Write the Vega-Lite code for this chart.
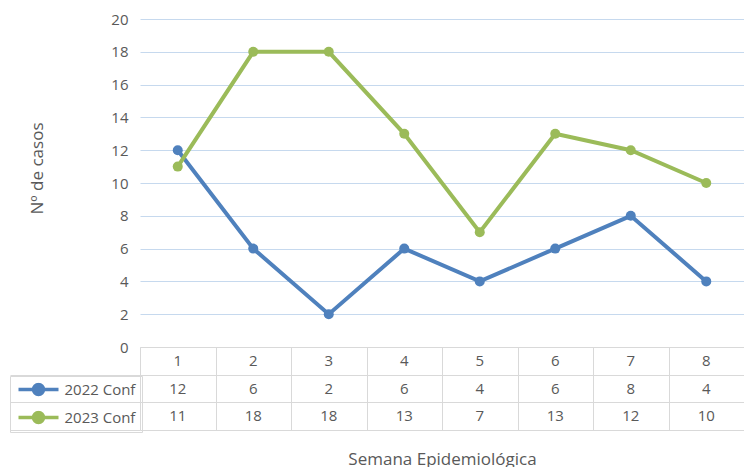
{
  "$schema": "https://vega.github.io/schema/vega-lite/v6.json",
  "padding": {"left": 9, "top": 12, "right": 0, "bottom": 0},
  "bounds": "flush",
  "spacing": 0,
  "config": {
    "font": "Open Sans",
    "view": {"stroke": null},
    "axis": {"labelFont": "Open Sans", "titleFont": "Open Sans", "labelColor": "#595959", "titleColor": "#595959", "titleFontWeight": "normal"}
  },
  "datasets": {
    "casos": [
      {"semana": 1, "serie": "2022 Conf", "casos": 12},
      {"semana": 2, "serie": "2022 Conf", "casos": 6},
      {"semana": 3, "serie": "2022 Conf", "casos": 2},
      {"semana": 4, "serie": "2022 Conf", "casos": 6},
      {"semana": 5, "serie": "2022 Conf", "casos": 4},
      {"semana": 6, "serie": "2022 Conf", "casos": 6},
      {"semana": 7, "serie": "2022 Conf", "casos": 8},
      {"semana": 8, "serie": "2022 Conf", "casos": 4},
      {"semana": 1, "serie": "2023 Conf", "casos": 11},
      {"semana": 2, "serie": "2023 Conf", "casos": 18},
      {"semana": 3, "serie": "2023 Conf", "casos": 18},
      {"semana": 4, "serie": "2023 Conf", "casos": 13},
      {"semana": 5, "serie": "2023 Conf", "casos": 7},
      {"semana": 6, "serie": "2023 Conf", "casos": 13},
      {"semana": 7, "serie": "2023 Conf", "casos": 12},
      {"semana": 8, "serie": "2023 Conf", "casos": 10}
    ]
  },
  "vconcat": [
    {
      "width": 604,
      "height": 328,
      "data": {"name": "casos"},
      "encoding": {
        "x": {"field": "semana", "type": "ordinal", "scale": {"type": "point", "padding": 0.5}, "axis": null},
        "y": {
          "field": "casos", "type": "quantitative",
          "scale": {"domain": [0, 20], "nice": false},
          "axis": {
            "values": [0, 2, 4, 6, 8, 10, 12, 14, 16, 18, 20],
            "title": "Nº de casos",
            "titleFontSize": 17,
            "titlePadding": 64,
            "titleY": 149,
            "domain": false, "ticks": false,
            "labelPadding": 12, "labelFontSize": 15,
            "gridColor": "#c6d9ee"
          }
        },
        "color": {
          "field": "serie", "type": "nominal",
          "scale": {"domain": ["2022 Conf", "2023 Conf"], "range": ["#4f81bd", "#9bbb59"]},
          "legend": {
            "orient": "none", "legendX": -130, "legendY": 357,
            "title": null,
            "symbolType": "M-1,0H1M-0.25,0A0.25,0.25,0,1,1,0.25,0A0.25,0.25,0,1,1,-0.25,0Z",
            "symbolSize": 1600,
            "symbolStrokeWidth": 3.5,
            "clipHeight": 14,
            "rowPadding": 13,
            "labelFontSize": 15,
            "labelColor": "#595959",
            "labelOffset": 4,
            "padding": 6.5,
            "strokeColor": "#d9d9d9"
          }
        }
      },
      "layer": [
        {"transform": [{"filter": "datum.serie === '2022 Conf'"}], "mark": {"type": "line", "strokeWidth": 4}},
        {"transform": [{"filter": "datum.serie === '2022 Conf'"}], "mark": {"type": "point", "filled": true, "size": 100, "opacity": 1}},
        {"transform": [{"filter": "datum.serie === '2023 Conf'"}], "mark": {"type": "line", "strokeWidth": 4}},
        {"transform": [{"filter": "datum.serie === '2023 Conf'"}], "mark": {"type": "point", "filled": true, "size": 100, "opacity": 1}}
      ]
    },
    {
      "width": 604,
      "height": 83,
      "data": {"name": "casos"},
      "encoding": {
        "x": {
          "field": "semana", "type": "ordinal",
          "scale": {"type": "band", "paddingInner": 0, "paddingOuter": 0},
          "axis": {
            "title": "Semana Epidemiológica",
            "titleFontSize": 17, "titlePadding": 21,
            "labels": false, "ticks": false, "domain": false,
            "grid": true, "gridColor": "#d9d9d9", "tickBand": "extent"
          }
        }
      },
      "layer": [
        {
          "mark": {"type": "text", "fontSize": 15, "color": "#595959"},
          "encoding": {
            "y": {
              "field": "serie", "type": "nominal",
              "scale": {"type": "band", "domain": ["hdr", "2022 Conf", "2023 Conf"], "paddingInner": 0, "paddingOuter": 0},
              "axis": {
                "title": null, "labels": false, "domain": false,
                "tickBand": "extent", "tickSize": 130,
                "tickColor": {"condition": {"test": "datum.extra", "value": "transparent"}, "value": "#d9d9d9"},
                "grid": true, "gridColor": "#d9d9d9"
              }
            },
            "text": {"field": "casos", "type": "quantitative"}
          }
        },
        {
          "transform": [{"filter": "datum.serie === '2022 Conf'"}],
          "mark": {"type": "text", "fontSize": 15, "color": "#595959"},
          "encoding": {
            "y": {"datum": "hdr", "type": "nominal"},
            "text": {"field": "semana", "type": "ordinal"}
          }
        }
      ]
    }
  ]
}
